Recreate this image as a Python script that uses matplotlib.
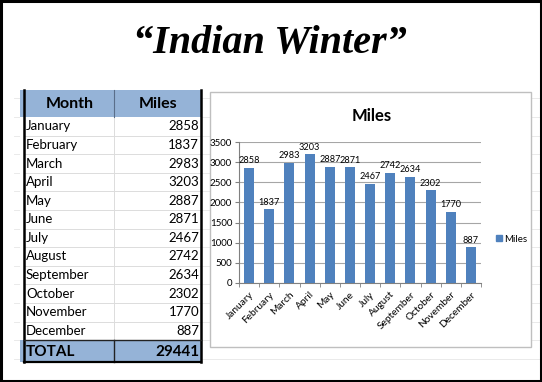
import matplotlib
matplotlib.use("Agg")
import matplotlib.pyplot as plt
import matplotlib.patches as mpatches
import numpy as np

# Data
months = ["January", "February", "March", "April", "May", "June", "July",
          "August", "September", "October", "November", "December"]
miles = [2858, 1837, 2983, 3203, 2887, 2871, 2467, 2742, 2634, 2302, 1770, 887]
total_label = "TOTAL"
total_value = 29441
y_ticks = [0, 500, 1000, 1500, 2000, 2500, 3000, 3500]

BAR_BLUE = "#4F81BD"
HEAD_BLUE = "#95B3D7"
FONT = ["Lato", "DejaVu Sans"]

W, H = 542, 382
fig = plt.figure(figsize=(W / 100, H / 100), dpi=100)

# full-figure overlay in pixel coords (y down)
bg = fig.add_axes([0, 0, 1, 1])
bg.set_xlim(0, W)
bg.set_ylim(H, 0)
bg.set_axis_off()

# faint spreadsheet grid behind everything
row_h = 18.6
table_top, head_bot = 90, 117
for k in range(-1, 14):
    yy = head_bot + k * row_h
    bg.plot([14, 540], [yy, yy], color="#e6e6e6", lw=0.6, zorder=0)

# outer frame
bg.add_patch(mpatches.Rectangle((1, 1), W - 2, H - 2, fill=False,
                                edgecolor="black", lw=2.2, zorder=10))

# title
bg.text(270, 43, "\u201cIndian Winter\u201d", ha="center", va="center",
        fontsize=29, fontstyle="italic", fontweight="bold",
        family=["Liberation Serif", "DejaVu Serif"], zorder=5)

# table
x0, xm, x1 = 20, 114, 201
bg.add_patch(mpatches.Rectangle((x0, table_top), x1 - x0, head_bot - table_top,
                                facecolor=HEAD_BLUE, edgecolor="none", zorder=1))
bg.add_patch(mpatches.Rectangle((x0, table_top), x1 - x0, 363 - table_top,
                                facecolor="white", edgecolor="none", zorder=0.5))
tot_top = head_bot + 12 * row_h
bg.add_patch(mpatches.Rectangle((x0, tot_top), x1 - x0, 362 - tot_top,
                                facecolor=HEAD_BLUE, edgecolor="none", zorder=1))
bg.text((x0 + xm) / 2 + 3, (table_top + head_bot) / 2 + 1, "Month", ha="center",
        va="center", fontsize=11.5, fontweight="bold", family=FONT, zorder=3)
bg.text((xm + x1) / 2 + 1, (table_top + head_bot) / 2 + 1, "Miles", ha="center",
        va="center", fontsize=11.5, fontweight="bold", family=FONT, zorder=3)
for i, (m, v) in enumerate(zip(months, miles)):
    yc = head_bot + (i + 0.5) * row_h
    bg.text(x0 + 6, yc, m, ha="left", va="center", fontsize=9.5, family=FONT, zorder=3)
    bg.text(x1 - 2, yc, str(v), ha="right", va="center", fontsize=9.5, family=FONT, zorder=3)
    yl = head_bot + (i + 1) * row_h
    bg.plot([x0 + 4, x1], [yl, yl], color="#dcdcdc", lw=0.7, zorder=2)
bg.plot([xm, xm], [table_top, 362], color="#dcdcdc", lw=0.7, zorder=2)
yc = (tot_top + 362) / 2 + 1
bg.text(x0 + 6, yc, total_label, ha="left", va="center", fontsize=11,
        fontweight="bold", family=FONT, zorder=3)
bg.text(x1 - 2, yc, str(total_value), ha="right", va="center", fontsize=11,
        fontweight="bold", family=FONT, zorder=3)
# thick borders
for xx in (x0 + 4, x1):
    bg.plot([xx, xx], [table_top, 362], color="black", lw=1.8, zorder=4)
bg.plot([xm, xm], [table_top, head_bot], color="#5a6e8a", lw=0.8, zorder=4)
bg.plot([xm, xm], [tot_top, 362], color="#222222", lw=1.0, zorder=4)
bg.plot([x0 + 4, x1], [362, 362], color="black", lw=1.6, zorder=4)
bg.plot([x0 + 4, x1], [tot_top, tot_top], color="#222222", lw=1.0, zorder=4)

# chart box
bg.add_patch(mpatches.Rectangle((210, 92), 321, 255, facecolor="white",
                                edgecolor="#bfbfbf", lw=1.0, zorder=3))
bg.text(372, 116, "Miles", ha="center", va="center", fontsize=12,
        fontweight="bold", family=FONT, zorder=4)

# bar chart
ax = fig.add_axes([239 / W, (H - 283) / H, (481 - 239) / W, (283 - 142) / H])
ax.set_zorder(5)
ax.patch.set_alpha(0)
x = np.arange(len(months))
ax.bar(x, miles, width=0.5, color=BAR_BLUE, zorder=3, label="Miles")
for xi, v in zip(x, miles):
    ax.text(xi, v + 60, str(v), ha="center", va="bottom", fontsize=6.6,
            family=FONT, zorder=4)
ax.set_xlim(-0.5, len(months) - 0.5)
ax.set_ylim(0, 3500)
ax.set_yticks(y_ticks)
ax.set_yticklabels([str(t) for t in y_ticks], fontsize=7, family=FONT)
ax.yaxis.grid(True, color="#a6a6a6", lw=0.8, zorder=0)
ax.set_xticks(x)
ax.set_xticklabels(months, rotation=45, ha="right", rotation_mode="anchor",
                   fontsize=7.3, family=FONT)
ax.set_xticks(np.arange(-0.5, len(months)), minor=True)
ax.tick_params(axis="x", which="major", length=0, pad=5)
ax.tick_params(axis="x", which="minor", length=3, color="#808080")
ax.tick_params(axis="y", length=3, color="#808080", pad=2)
for s in ("top", "right"):
    ax.spines[s].set_visible(False)
for s in ("left", "bottom"):
    ax.spines[s].set_color("#808080")
    ax.spines[s].set_linewidth(0.8)

handle = mpatches.Patch(color=BAR_BLUE, label="Miles")
fig.legend(handles=[handle], loc="center left", bbox_to_anchor=(487 / W, 1 - 239 / H),
           frameon=False, prop={"family": FONT, "size": 7}, handlelength=0.6,
           handleheight=0.6, handletextpad=0.3)

fig.savefig("out.png", dpi=100)
